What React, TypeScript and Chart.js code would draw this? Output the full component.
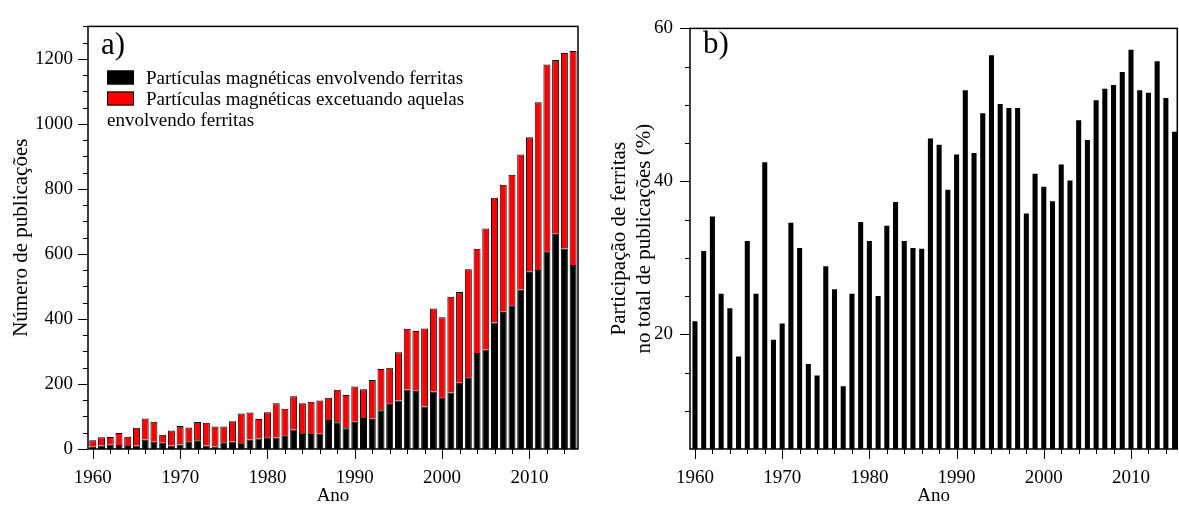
import React, { useEffect, useRef } from 'react';
import { Chart, registerables } from 'chart.js';

Chart.register(...registerables);

// ---------- DATA ----------
const years = [
  1960, 1961, 1962, 1963, 1964, 1965, 1966, 1967, 1968, 1969,
  1970, 1971, 1972, 1973, 1974, 1975, 1976, 1977, 1978, 1979,
  1980, 1981, 1982, 1983, 1984, 1985, 1986, 1987, 1988, 1989,
  1990, 1991, 1992, 1993, 1994, 1995, 1996, 1997, 1998, 1999,
  2000, 2001, 2002, 2003, 2004, 2005, 2006, 2007, 2008, 2009,
  2010, 2011, 2012, 2013, 2014, 2015,
];

// publications on magnetic particles involving ferrites (black)
const ferritas = [
  7, 11, 13, 12, 9, 11, 29, 22, 19, 11,
  14, 24, 27, 11, 8, 21, 23, 15, 29, 32,
  36, 35, 42, 60, 46, 46, 47, 89, 82, 64,
  84, 95, 93, 119, 141, 149, 183, 179, 131, 177,
  159, 174, 204, 221, 295, 306, 389, 422, 442, 491,
  545, 551, 608, 662, 617, 566,
];

// publications on magnetic particles except ferrites (red, stacked on top)
const outras = [
  20, 25, 24, 37, 29, 54, 65, 62, 25, 46,
  57, 42, 56, 70, 61, 48, 62, 94, 83, 60,
  77, 106, 82, 102, 95, 99, 102, 69, 100, 102,
  108, 89, 119, 127, 109, 149, 187, 184, 240, 255,
  246, 294, 279, 332, 321, 372, 384, 391, 402, 415,
  414, 516, 575, 535, 601, 658,
];

// share of ferrites in total publications (%)
const participacao = [
  21.7, 30.9, 35.4, 25.3, 23.4, 17.1, 32.2, 25.3, 42.5, 19.3,
  21.4, 34.6, 31.3, 16.1, 14.6, 28.9, 25.9, 13.2, 25.3, 34.7,
  32.2, 25.0, 34.2, 37.3, 32.2, 31.3, 31.2, 45.6, 44.8, 38.9,
  43.5, 51.9, 43.7, 48.9, 56.5, 50.1, 49.6, 49.6, 35.8, 41.0,
  39.3, 37.4, 42.2, 40.1, 48.0, 45.4, 50.6, 52.1, 52.6, 54.3,
  57.2, 51.9, 51.6, 55.7, 50.9, 46.5,
];

const legendLabels = [
  'Partículas magnéticas envolvendo ferritas',
  'Partículas magnéticas excetuando aquelas envolvendo ferritas',
];

const xTickLabels = [1960, 1970, 1980, 1990, 2000, 2010];
const leftYTickLabels = [0, 200, 400, 600, 800, 1000, 1200];
const rightYTickLabels = [20, 40, 60];

const X_MINOR_STEP = 2;
const LEFT_Y_MINOR_STEP = 50;
const RIGHT_Y_MINOR_STEP = 5;

const FONT = "'Liberation Serif', 'Times New Roman', serif";

function range(a: number, b: number, step: number) {
  const out: number[] = [];
  for (let v = a; v <= b + 1e-9; v += step) out.push(v);
  return out;
}

// ---------- PLUGINS ----------
const frameTicksPlugin = {
  id: 'frameTicks',
  afterDraw(chart: any, _args: any, opts: any) {
    const { ctx, chartArea, scales } = chart;
    const { left, right, top, bottom } = chartArea;
    ctx.save();
    ctx.strokeStyle = '#000';
    ctx.lineWidth = 1;
    const xs = scales.x;
    const ys = scales.y;
    (opts.xMinor || []).forEach((v: number) => {
      const major = (opts.xMajor || []).includes(v);
      const px = Math.round(xs.getPixelForValue(v)) + 0.5;
      ctx.beginPath();
      ctx.moveTo(px, bottom);
      ctx.lineTo(px, bottom + (major ? 10 : 5));
      ctx.stroke();
    });
    (opts.yMinor || []).forEach((v: number) => {
      const major = (opts.yMajor || []).includes(v);
      const py = Math.round(ys.getPixelForValue(v)) + 0.5;
      ctx.beginPath();
      ctx.moveTo(left, py);
      ctx.lineTo(left - (major ? 10 : 5), py);
      ctx.stroke();
    });
    ctx.lineWidth = 1.5;
    ctx.strokeRect(left, top, right - left, bottom - top);
    if (opts.panel) {
      ctx.fillStyle = '#000';
      ctx.font = `31px ${FONT}`;
      ctx.textBaseline = 'alphabetic';
      ctx.textAlign = 'left';
      ctx.fillText(opts.panel.text, opts.panel.x, opts.panel.y);
    }
    ctx.restore();
  },
};

const boxLegendPlugin = {
  id: 'boxLegend',
  afterDraw(chart: any, _args: any, opts: any) {
    if (!opts || !opts.display) return;
    const ctx = chart.ctx;
    ctx.save();
    ctx.font = `${opts.size}px ${FONT}`;
    ctx.textBaseline = 'alphabetic';
    ctx.textAlign = 'left';
    let y = opts.y;
    chart.data.datasets.forEach((ds: any) => {
      ctx.fillStyle = ds.backgroundColor;
      ctx.fillRect(opts.x, y - 13.5, opts.boxW, 14);
      ctx.strokeStyle = '#000';
      ctx.lineWidth = 1;
      ctx.strokeRect(opts.x + 0.5, y - 13, opts.boxW - 1, 13);
      ctx.fillStyle = '#000';
      const words = String(ds.label).split(' ');
      let startX = opts.x + opts.boxW + opts.gap;
      let line = '';
      words.forEach((w: string) => {
        const test = line ? line + ' ' + w : w;
        if (line && startX + ctx.measureText(test).width > opts.maxRight) {
          ctx.fillText(line, startX, y);
          y += opts.lineH;
          startX = opts.x;
          line = w;
        } else {
          line = test;
        }
      });
      ctx.fillText(line, startX, y);
      y += opts.lineH;
    });
    ctx.restore();
  },
};

function tickFont() {
  return { family: FONT, size: 19 };
}

function leftConfig(): any {
  return {
    type: 'bar',
    data: {
      datasets: [
        {
          label: legendLabels[0],
          data: years.map((x, i) => ({ x, y: ferritas[i] })),
          backgroundColor: '#000000',
          borderColor: '#000000',
          borderWidth: 1,
          barPercentage: 0.8,
          categoryPercentage: 1,
        },
        {
          label: legendLabels[1],
          data: years.map((x, i) => ({ x, y: outras[i] })),
          backgroundColor: '#ff0000',
          borderColor: '#000000',
          borderWidth: 1,
          barPercentage: 0.8,
          categoryPercentage: 1,
        },
      ],
    },
    options: {
      animation: false,
      responsive: false,
      events: [],
      layout: { padding: { top: 14, right: 12, left: 0, bottom: 0 } },
      scales: {
        x: {
          type: 'linear',
          stacked: true,
          offset: false,
          min: 1959.45,
          max: 2015.56,
          afterBuildTicks: (s: any) => {
            s.ticks = xTickLabels.map((v) => ({ value: v }));
          },
          afterFit: (s: any) => {
            s.height = 64;
          },
          grid: { display: false, drawTicks: false, offset: false },
          border: { display: false },
          ticks: {
            padding: 18,
            color: '#000',
            font: tickFont(),
            maxRotation: 0,
            autoSkip: false,
            callback: (v: any) => String(v),
          },
          title: {
            display: true,
            text: 'Ano',
            color: '#000',
            font: { family: FONT, size: 19 },
            padding: { top: 0, bottom: 6 },
          },
        },
        y: {
          type: 'linear',
          stacked: true,
          min: 0,
          max: 1300,
          afterBuildTicks: (s: any) => {
            s.ticks = leftYTickLabels.map((v) => ({ value: v }));
          },
          afterFit: (s: any) => {
            s.width = 88;
          },
          grid: { display: false, drawTicks: false },
          border: { display: false },
          ticks: {
            padding: 15,
            color: '#000',
            font: tickFont(),
            callback: (v: any) => String(v),
          },
          title: {
            display: true,
            text: 'Número de publicações',
            color: '#000',
            font: { family: FONT, size: 21 },
            padding: { top: 9, bottom: 0 },
          },
        },
      },
      plugins: {
        legend: { display: false },
        tooltip: { enabled: false },
        frameTicks: {
          xMajor: xTickLabels,
          xMinor: range(1960, 2015, X_MINOR_STEP),
          yMajor: leftYTickLabels,
          yMinor: range(0, 1300, LEFT_Y_MINOR_STEP),
          panel: { text: 'a)', x: 101, y: 54 },
        },
        boxLegend: {
          display: true,
          x: 107,
          y: 84,
          boxW: 27,
          gap: 12,
          lineH: 21,
          size: 19,
          maxRight: 490,
        },
      },
    },
    plugins: [frameTicksPlugin, boxLegendPlugin],
  };
}

function rightConfig(): any {
  return {
    type: 'bar',
    data: {
      datasets: [
        {
          label: 'Participação de ferritas (%)',
          data: years.map((x, i) => ({ x, y: participacao[i] })),
          backgroundColor: '#000000',
          borderWidth: 0,
          barPercentage: 0.58,
          categoryPercentage: 1,
        },
      ],
    },
    options: {
      animation: false,
      responsive: false,
      events: [],
      layout: { padding: { top: 15, right: 1.7, left: 0, bottom: 0 } },
      scales: {
        x: {
          type: 'linear',
          offset: false,
          min: 1959.43,
          max: 2015.31,
          afterBuildTicks: (s: any) => {
            s.ticks = xTickLabels.map((v) => ({ value: v }));
          },
          afterFit: (s: any) => {
            s.height = 64;
          },
          grid: { display: false, drawTicks: false, offset: false },
          border: { display: false },
          ticks: {
            padding: 18,
            color: '#000',
            font: tickFont(),
            maxRotation: 0,
            autoSkip: false,
            callback: (v: any) => String(v),
          },
          title: {
            display: true,
            text: 'Ano',
            color: '#000',
            font: { family: FONT, size: 19 },
            padding: { top: 0, bottom: 6 },
          },
        },
        y: {
          type: 'linear',
          min: 5,
          max: 60,
          afterBuildTicks: (s: any) => {
            s.ticks = rightYTickLabels.map((v) => ({ value: v }));
          },
          afterFit: (s: any) => {
            s.width = 100;
          },
          grid: { display: false, drawTicks: false },
          border: { display: false },
          ticks: {
            padding: 17,
            color: '#000',
            font: tickFont(),
            callback: (v: any) => String(v),
          },
          title: {
            display: true,
            text: ['Participação de ferritas', 'no total de publicações (%)'],
            color: '#000',
            font: { family: FONT, size: 21, lineHeight: '25px' },
            padding: { top: 17, bottom: 0 },
          },
        },
      },
      plugins: {
        legend: { display: false },
        tooltip: { enabled: false },
        frameTicks: {
          xMajor: xTickLabels,
          xMinor: range(1960, 2015, X_MINOR_STEP),
          yMajor: rightYTickLabels,
          yMinor: range(10, 60, RIGHT_Y_MINOR_STEP),
          panel: { text: 'b)', x: 113, y: 53 },
        },
      },
    },
    plugins: [frameTicksPlugin],
  };
}

export default function App() {
  const leftRef = useRef<HTMLCanvasElement>(null);
  const rightRef = useRef<HTMLCanvasElement>(null);

  useEffect(() => {
    if (!leftRef.current || !rightRef.current) return;
    const c1 = new Chart(leftRef.current, leftConfig());
    const c2 = new Chart(rightRef.current, rightConfig());
    return () => {
      c1.destroy();
      c2.destroy();
    };
  }, []);

  return (
    <div
      style={{
        position: 'fixed',
        left: 0,
        top: 0,
        width: 1179,
        height: 513,
        background: '#ffffff',
        overflow: 'hidden',
      }}
    >
      <canvas
        ref={leftRef}
        width={590}
        height={513}
        style={{ position: 'absolute', left: 0, top: 0, width: 590, height: 513 }}
      />
      <canvas
        ref={rightRef}
        width={589}
        height={513}
        style={{ position: 'absolute', left: 590, top: 0, width: 589, height: 513 }}
      />
    </div>
  );
}
